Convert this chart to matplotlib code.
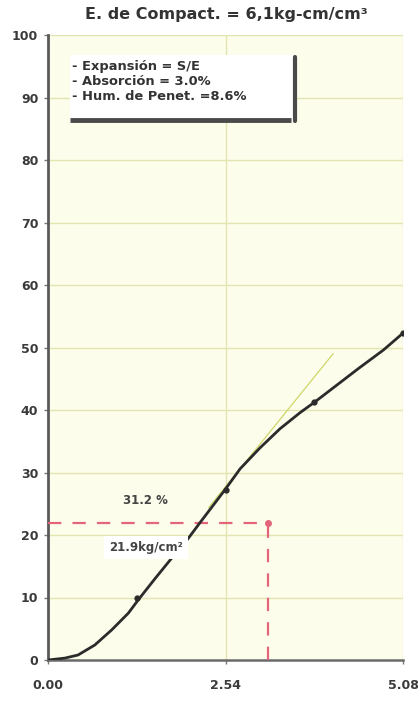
import matplotlib
matplotlib.use("Agg")
import matplotlib.pyplot as plt
from matplotlib.patches import Rectangle

plt.rcParams['font.family'] = ['DejaVu Sans']

# Penetration curve (mm vs kg/cm2)
pen = [0.00, 0.24, 0.43, 0.67, 0.91, 1.15, 1.29, 1.53, 1.77, 2.01, 2.17,
       2.53, 2.75, 3.03, 3.32, 3.61, 3.82, 4.03, 4.45, 4.80, 5.08]
load = [0.0, 0.3, 0.8, 2.4, 4.8, 7.5, 9.6, 13.0, 16.3, 19.5, 21.9,
        27.2, 30.6, 33.9, 37.0, 39.6, 41.3, 43.1, 46.7, 49.6, 52.3]
marker_pen = [1.27, 2.54, 3.81, 5.08]
marker_load = [10.0, 27.2, 41.3, 52.3]

# Corrected tangent segment
tan_x = [2.30, 4.08]
tan_y = [24.4, 49.0]

# Design point
design_pen = 3.15
design_load = 21.9
design_pct = 31.2

x_ticks = [0.00, 2.54, 5.08]
x_labels = ["0.00", "2.54", "5.08"]
y_ticks = list(range(0, 101, 10))

title = "E. de Compact. = 6,1kg-cm/cm³"
notes = ["- Expansión = S/E", "- Absorción = 3.0%", "- Hum. de Penet. =8.6%"]

fig = plt.figure(figsize=(4.18, 7.22), dpi=100)
ax = fig.add_axes([48/418, 1-660/722, 355/418, 625/722])
ax.set_facecolor('#fdfdeb')
ax.set_xlim(0, 5.08)
ax.set_ylim(0, 100)

grid_c = '#e2e5b0'
for y in y_ticks[1:]:
    ax.axhline(y, color=grid_c, lw=1.0, zorder=1)
for x in x_ticks[1:]:
    ax.axvline(x, color=grid_c, lw=1.0, zorder=1)

for s in ['top', 'right']:
    ax.spines[s].set_visible(False)
ax.spines['left'].set_color('#5a5a5a')
ax.spines['left'].set_linewidth(2.0)
ax.spines['bottom'].set_color('#6a6a6a')
ax.spines['bottom'].set_linewidth(1.8)

ax.set_xticks(x_ticks)
ax.set_xticklabels(x_labels)
ax.set_yticks(y_ticks)
ax.tick_params(axis='both', length=3, color='#777777', labelsize=9,
               labelcolor='#3a3a3a', width=1)
ax.tick_params(axis='x', pad=11)
ax.tick_params(axis='y', pad=4)
for lab in ax.get_xticklabels() + ax.get_yticklabels():
    lab.set_fontweight('bold')

# tangent line
ax.plot(tan_x, tan_y, color='#cfd66a', lw=0.9, zorder=2)

# red dashed design lines
red = '#e2657a'
ax.plot([0, design_pen], [design_load, design_load], color=red, lw=1.6,
        dashes=(6, 5), zorder=3)
ax.plot([design_pen, design_pen], [0, design_load], color=red, lw=1.6,
        dashes=(6, 5), zorder=3)
ax.plot([design_pen], [design_load], 'o', color=red, ms=4, zorder=4)

# main curve
ax.plot(pen, load, color='#2b2b2b', lw=2.0, zorder=5,
        solid_capstyle='round', solid_joinstyle='round')
ax.plot(marker_pen, marker_load, 'o', color='#2b2b2b', ms=3.5, zorder=6)

ax.text(1.39, 25.6, f"{design_pct:.1f} %", fontsize=8.5, fontweight='bold',
        color='#444444', ha='center', va='center', zorder=7)
ax.text(1.40, 18.0, f"{design_load:.1f}kg/cm²", fontsize=8.5,
        fontweight='bold', color='#444444', ha='center', va='center',
        zorder=7, bbox=dict(boxstyle='square,pad=0.45', fc='white', ec='none'))

# notes box with shadow
x0, x1 = 0.31, 3.53
y0, y1 = 86.1, 96.8
ax.add_patch(Rectangle((x0, y0), x1 - x0, y1 - y0, fc='white', ec='none',
                       zorder=7))
ax.plot([x0, x1 - 0.05], [y0 + 0.3, y0 + 0.3], color='#4a4a4a', lw=3.5,
        zorder=8, solid_capstyle='butt')
ax.plot([x1, x1], [y0 + 0.2, y1 - 0.3], color='#4a4a4a', lw=3.0, zorder=8,
        solid_capstyle='round')
for i, line in enumerate(notes):
    ax.text(0.35, 95.0 - i * 2.4, line, fontsize=9.4, fontweight='bold',
            color='#333333', ha='left', va='center', zorder=9)

fig.text(226/418, 1-15/722, title, fontsize=11.5, fontweight='bold',
         color='#333333', ha='center', va='center')

fig.savefig('out.png', dpi=100, facecolor='white')
